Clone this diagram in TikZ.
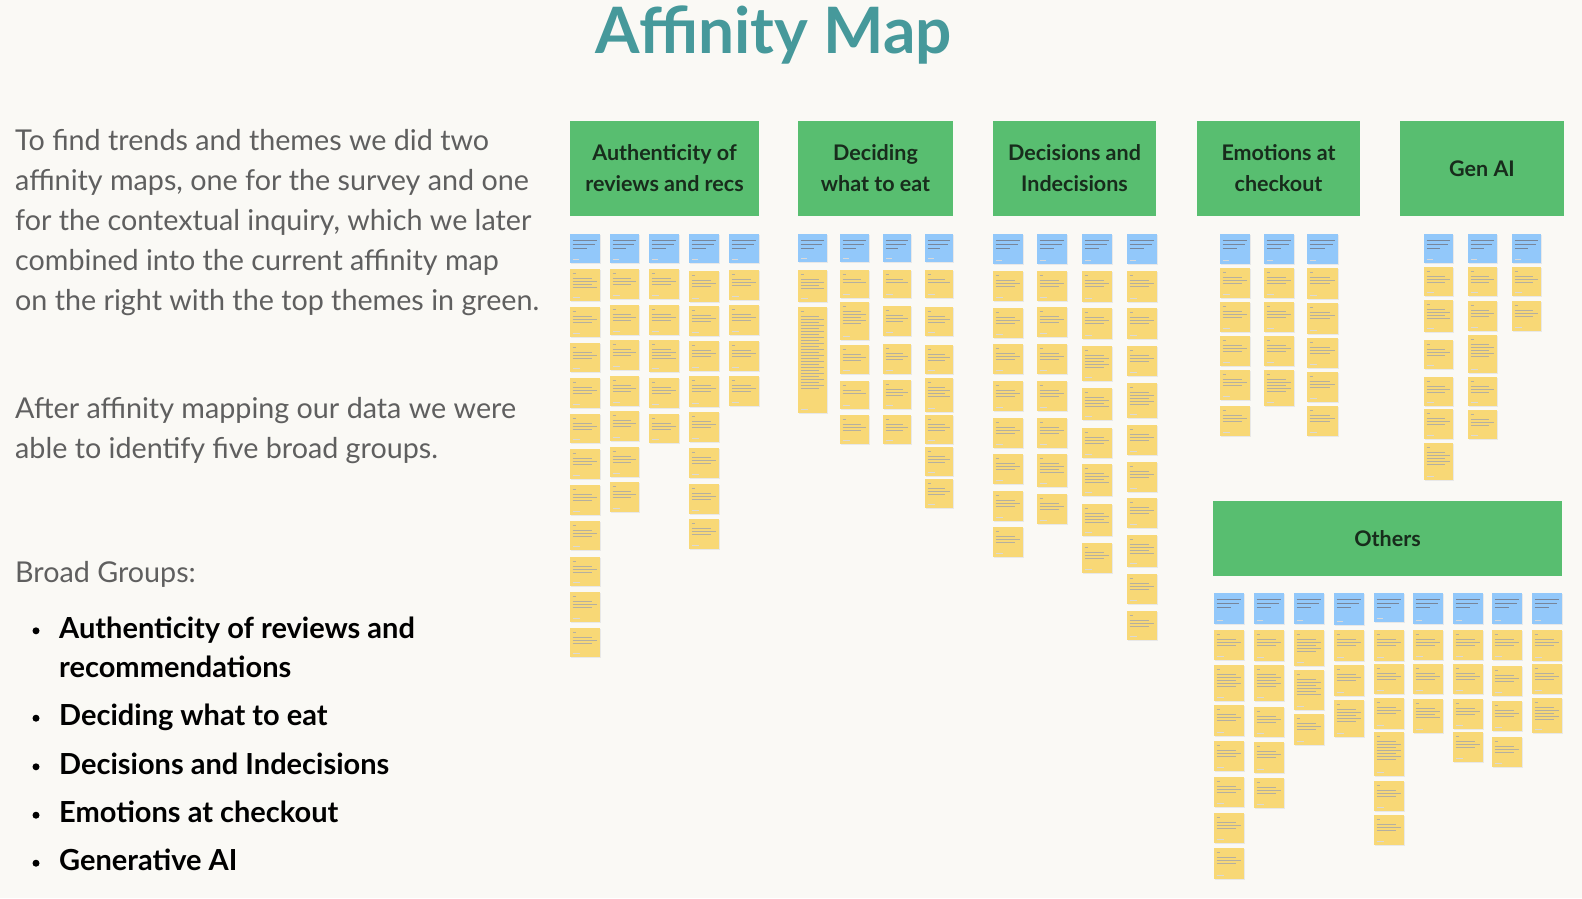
\documentclass[tikz,border=0pt]{standalone}
\usepackage{fontspec}
\setmainfont{Lato}
\usetikzlibrary{positioning}
\definecolor{boardBg}{RGB}{250,249,245}
\definecolor{titleTeal}{RGB}{70,153,155}
\definecolor{bodyGray}{RGB}{95,95,95}
\definecolor{headerGreen}{RGB}{88,190,112}
\definecolor{headerInk}{RGB}{24,44,28}
\definecolor{blueSticky}{RGB}{146,200,250}
\definecolor{yellowSticky}{RGB}{248,216,118}
\definecolor{stickyInk}{RGB}{120,110,80}
\definecolor{blueStickyInk}{RGB}{60,80,110}

% one column of stickies: x1, x2, blue top, blue bottom, yellow top/bottom list
\newcommand{\notecol}[5]{%
  \fill[black!9] (#1+0.6,#3+0.8) rectangle (#2+0.6,#4+0.8);
  \fill[blueSticky] (#1,#3) rectangle (#2,#4);
  \draw[blueInk] (#1+2.5,#3+6) -- (#2-3,#3+6)
                 (#1+2.5,#3+10) -- (#2-5,#3+10)
                 (#1+2.5,#3+14) -- (#2-13,#3+14);
  \draw[footInk] (#1+2.5,#4-3.5) -- ++(6,0);
  \foreach \nt/\nb in {#5}{%
    \fill[black!9] (#1+0.6,\nt+0.8) rectangle (#2+0.6,\nb+0.8);
    \fill[yellowSticky] (#1,\nt) rectangle (#2,\nb);
    \draw[noteInk] (#1+2.5,\nt+4.5) -- ++(3,0);
    \pgfmathtruncatemacro{\nl}{max(2,(\nb-\nt-18)/3.4)}
    \foreach \k in {1,...,\nl}{
      \draw[noteInk] ({#1+2.5},{\nt+6+3*\k}) -- ({#2-3-5*mod(\k,2)},{\nt+6+3*\k});
    }
    \draw[footInk] (#1+2.5,\nb-3.5) -- ++(7,0);
  }%
}

\begin{document}
\begin{tikzpicture}[x=1pt,y=-1pt]

          \tikzstyle{titleText} = [titleTeal, font=\fontsize{64}{70}\selectfont\bfseries, inner sep=0];
          \tikzstyle{bodyText} = [bodyGray, font=\fontsize{28.7}{34}\selectfont, inner sep=0];
          \tikzstyle{groupText} = [black, font=\fontsize{29}{33}\selectfont\bfseries, inner sep=0];
          \tikzstyle{groupHeader} = [fill=headerGreen, text=headerInk, inner sep=0, align=center,
                                     font=\fontsize{21.5}{31}\selectfont\bfseries];
          \tikzstyle{noteInk} = [stickyInk!55, line width=0.45pt];
          \tikzstyle{blueInk} = [blueStickyInk!70, line width=0.55pt];
          \tikzstyle{footInk} = [black!15, line width=0.5pt];

          \fill[boardBg] (0,0) rectangle (1582,898);
          \useasboundingbox (0,0) rectangle (1582,898);

          \node[titleText, anchor=base] (title) at (774,53) {Affinity Map};

          % left column text
          \foreach \line [count=\i from 0] in {To find trends and themes we did two,
              {affinity maps, one for the survey and one},
              {for the contextual inquiry, which we later},
              combined into the current affinity map,
              on the right with the top themes in green.}
            \node[bodyText, anchor=base west] (intro\i) at (15,150.7+40*\i) {\line};
          \node[bodyText, anchor=base west] (after0) at (15,418.3) {After affinity mapping our data we were};
          \node[bodyText, anchor=base west] (after1) at (15,458.3) {able to identify five broad groups.};
          \node[bodyText, anchor=base west] (broad) at (15,582.7) {Broad Groups:};

          \foreach \y/\g [count=\i] in {638.3/Authenticity of reviews and, 725.7/Deciding what to eat,
              774.3/Decisions and Indecisions, 822.7/Emotions at checkout, 870.7/Generative AI}{
            \node[circle, fill=black, inner sep=0, minimum size=7pt] (dot\i) at (36,\y-7.5) {};
            \node[groupText, anchor=base west] (group\i) at (59,\y) {\g};
          }
          \node[groupText, anchor=base west] (group1b) at (59,677.7) {recommendations};

          % green theme headers
          \node[groupHeader, minimum width=189pt, minimum height=95pt] (hAuth) at (664.5,168.5) {Authenticity of\\reviews and recs};
          \node[groupHeader, minimum width=155pt, minimum height=95pt] (hDeciding) at (875.5,168.5) {Deciding\\what to eat};
          \node[groupHeader, minimum width=163pt, minimum height=95pt] (hDecisions) at (1074.5,168.5) {Decisions and\\Indecisions};
          \node[groupHeader, minimum width=163pt, minimum height=95pt] (hEmotions) at (1278.5,168.5) {Emotions at\\checkout};
          \node[groupHeader, minimum width=164pt, minimum height=95pt] (hGenAI) at (1482,168.5) {Gen AI};
          \node[groupHeader, minimum width=349pt, minimum height=75pt] (hOthers) at (1387.5,538.5) {Others};

          % authenticity of reviews and recs
          \notecol{570}{600}{234}{263}{269/301, 307/337, 343/372, 378/408, 414/443, 449/479, 485/515, 521/550, 557/586, 592/622, 628/657}
          \notecol{610}{639}{234}{263}{269/299, 305/335, 340/370, 376/406, 411/441, 447/477, 482/512}
          \notecol{649}{679}{234}{263}{269/299, 305/335, 340/372, 378/408, 414/443}
          \notecol{689}{719}{234}{263}{271/302, 306/336, 341/371, 376/407, 412/442, 448/478, 484/514, 519/549}
          \notecol{729}{759}{234}{263}{270/300, 305/335, 341/371, 376/406}

          % deciding what to eat
          \notecol{798}{827}{234}{262}{270/302, 307/413}
          \notecol{840}{869}{234}{262}{270/298, 302/340, 345/374, 381/409, 415/444}
          \notecol{883}{911}{234}{262}{270/298, 306/336, 344/374, 380/409, 415/444}
          \notecol{925}{953}{234}{262}{270/298, 307/336, 345/374, 378/412, 415/444, 447/476, 479/508}

          % decisions and indecisions
          \notecol{993}{1023}{234}{264}{271/301, 308/338, 344/374, 381/411, 418/448, 454/484, 491/521, 527/557}
          \notecol{1037}{1067}{234}{264}{271/301, 307/337, 344/374, 381/411, 418/448, 454/487, 494/524}
          \notecol{1082}{1112}{234}{264}{271/302, 308/339, 346/381, 388/420, 428/458, 464/496, 504/536, 543/573}
          \notecol{1127}{1157}{234}{264}{271/302, 308/339, 346/376, 383/418, 425/455, 462/492, 498/528, 535/567, 574/604, 611/640}

          % emotions at checkout
          \notecol{1220}{1250}{234}{264}{268/298, 302/332, 336/366, 370/400, 406/436}
          \notecol{1264}{1294}{234}{264}{268/298, 302/332, 336/366, 370/406}
          \notecol{1307}{1338}{234}{264}{268/299, 303/334, 338/368, 372/402, 406/436}

          % gen ai
          \notecol{1424}{1453}{234}{263}{267/296, 300/332, 340/369, 377/406, 409/439, 443/480}
          \notecol{1468}{1497}{234}{263}{267/296, 301/331, 335/373, 377/406, 410/439}
          \notecol{1512}{1541}{234}{263}{267/296, 301/331}

          % others
          \notecol{1214}{1244}{593}{624}{630/660, 665/701, 705/736, 741/771, 777/807, 813/843, 848/879}
          \notecol{1254}{1284}{593}{624}{630/661, 665/701, 707/737, 742/773, 778/808}
          \notecol{1294}{1324}{593}{624}{630/666, 670/710, 714/745}
          \notecol{1334}{1364}{593}{625}{630/661, 665/696, 700/737}
          \notecol{1374}{1404}{593}{622}{630/661, 664/694, 698/729, 732/776, 781/811, 815/845}
          \notecol{1413}{1443}{593}{624}{630/660, 664/694, 699/733}
          \notecol{1453}{1483}{593}{624}{630/660, 664/694, 699/729, 732/762}
          \notecol{1492}{1522}{593}{624}{630/660, 666/696, 701/731, 737/767}
          \notecol{1532}{1562}{593}{624}{630/661, 664/694, 698/733}
        \end{tikzpicture}
\end{document}
